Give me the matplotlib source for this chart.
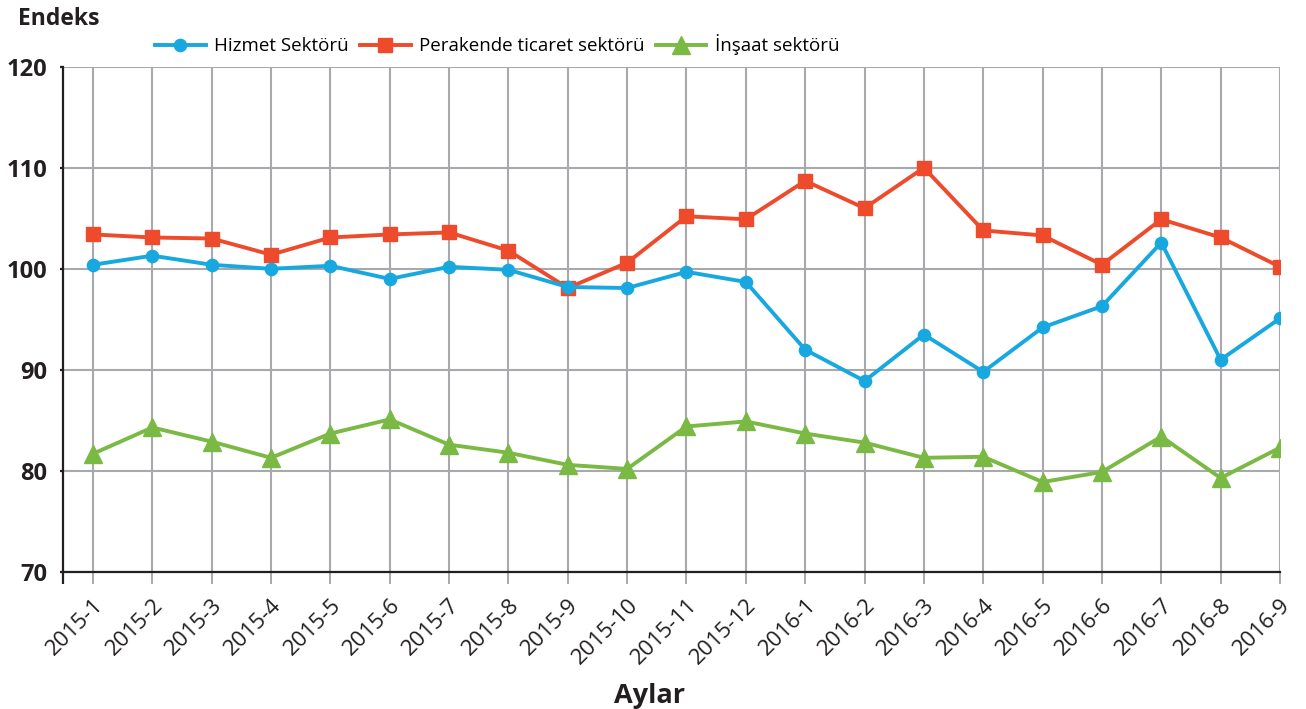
import matplotlib
matplotlib.use("Agg")
import matplotlib.pyplot as plt
from matplotlib.ticker import FixedLocator
from matplotlib.transforms import ScaledTranslation

plt.rcParams['font.family'] = ['Open Sans', 'DejaVu Sans']

months = ["2015-1", "2015-2", "2015-3", "2015-4", "2015-5", "2015-6", "2015-7",
          "2015-8", "2015-9", "2015-10", "2015-11", "2015-12", "2016-1", "2016-2",
          "2016-3", "2016-4", "2016-5", "2016-6", "2016-7", "2016-8", "2016-9"]
hizmet = [100.4, 101.3, 100.4, 100.0, 100.3, 99.0, 100.2, 99.9, 98.2, 98.1, 99.7,
          98.7, 92.0, 88.9, 93.5, 89.8, 94.2, 96.3, 102.6, 91.0, 95.1]
perakende = [103.4, 103.1, 103.0, 101.4, 103.1, 103.4, 103.6, 101.8, 98.1, 100.6,
             105.2, 104.9, 108.7, 106.0, 110.0, 103.8, 103.3, 100.4, 104.9, 103.1, 100.2]
insaat = [81.7, 84.3, 82.9, 81.3, 83.7, 85.1, 82.6, 81.8, 80.6, 80.2, 84.4, 84.9,
          83.7, 82.8, 81.3, 81.4, 78.9, 79.9, 83.4, 79.3, 82.3]
series_names = ["Hizmet Sektörü", "Perakende ticaret sektörü", "İnşaat sektörü"]
yticks = [70, 80, 90, 100, 110, 120]

BLUE = "#18A8E0"
RED = "#EE4A2C"
GREEN = "#7AB943"
GRID = "#A7A9AC"
TEXT = "#231F20"

fig = plt.figure(figsize=(13.06, 7.09), dpi=100)
ax = fig.add_axes([63.3 / 1306, 1 - 572 / 709, (1280 - 63.3) / 1306, (572 - 66.7) / 709])

x = list(range(len(months)))
ax.plot(x, hizmet, color=BLUE, lw=2.8, marker='o', ms=8.8, label=series_names[0], zorder=4)
ax.plot(x, perakende, color=RED, lw=2.8, marker='s', ms=9.5, label=series_names[1], zorder=3)
ax.plot(x, insaat, color=GREEN, lw=2.8, marker='^', ms=13, label=series_names[2], zorder=3)

ax.set_xlim(-0.5, len(months) - 1)
ax.set_ylim(70, 120)
ax.set_yticks(yticks)
ax.set_yticklabels([str(v) for v in yticks], fontweight='bold', fontsize=17, color=TEXT)
ax.set_xticks(x)
ax.set_xticklabels(months, rotation=45, ha='right', va='top', rotation_mode='anchor',
                   fontsize=16, color=TEXT)
shift = ScaledTranslation(7 / 100, 0, fig.dpi_scale_trans)
for lab in ax.get_xticklabels():
    lab.set_transform(lab.get_transform() + shift)
ax.xaxis.set_minor_locator(FixedLocator([-0.5]))
ax.tick_params(axis='x', which='major', length=8.6, width=1.4, color=GRID, pad=8)
ax.tick_params(axis='x', which='minor', length=8.6, width=1.6, color=TEXT)
ax.tick_params(axis='y', length=2.5, width=1.6, color=TEXT, pad=9)

ax.grid(True, color=GRID, lw=1.5, zorder=0)
ax.set_axisbelow(True)
for s in ['top', 'right']:
    ax.spines[s].set_visible(False)
for s in ['left', 'bottom']:
    ax.spines[s].set_color(TEXT)
    ax.spines[s].set_linewidth(1.6)
    ax.spines[s].set_zorder(2)

fig.text(18 / 1306, 1 - 25 / 709, "Endeks", fontsize=16.5, fontweight='bold',
         color=TEXT, ha='left', va='baseline')
fig.text(649 / 1306, 1 - 703 / 709, "Aylar", fontsize=19.5, fontweight='bold',
         color=TEXT, ha='center', va='baseline')

fig.legend(loc='center left', bbox_to_anchor=(155 / 1306, 1 - 45 / 709), ncol=3,
           frameon=False, fontsize=13.5, handlelength=2.7, handletextpad=0.45,
           columnspacing=0.6, borderpad=0, borderaxespad=0, markerscale=1.0)

fig.savefig("out.png", dpi=100)
